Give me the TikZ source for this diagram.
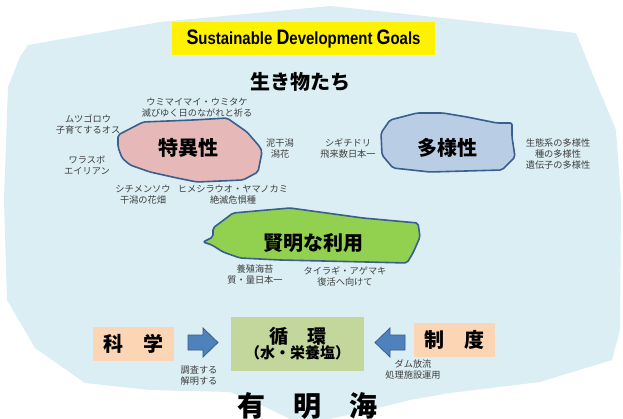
\documentclass[tikz,border=0pt]{standalone}
\usepackage{fontspec}
\usepackage{graphicx}
\newfontfamily\cjk{Noto Sans CJK JP}
\newfontfamily\latinfont{Liberation Sans}
\definecolor{seabg}{HTML}{DAEEF3}
\definecolor{edgeblue}{HTML}{3A5E8E}
\definecolor{pinkfill}{HTML}{E6B9B8}
\definecolor{bluefill}{HTML}{B9CDE5}
\definecolor{greenfill}{HTML}{92D050}
\definecolor{cyclefill}{HTML}{C3D69B}
\definecolor{peachfill}{HTML}{FCD5B5}
\definecolor{arrowfill}{HTML}{4F81BD}
\definecolor{arrowedge}{HTML}{385D8A}
\definecolor{labelgray}{HTML}{3F3F3F}
\tikzset{
  blobshape/.style={draw=edgeblue, line width=1.6pt, rounded corners=2pt, line join=round},
  blobtext/.style={inner sep=0pt, font=\cjk\bfseries\fontsize{20}{22}\selectfont},
  smalllabel/.style={inner sep=0pt, align=center, text=labelgray, font=\cjk\fontsize{9.2}{11}\selectfont},
  peachbox/.style={fill=peachfill, minimum width=81pt, minimum height=34pt, inner sep=0pt, font=\cjk\bfseries\fontsize{20}{22}\selectfont},
  blockarrow/.style={fill=arrowfill, draw=arrowedge, line width=0.8pt, line join=miter},
}
\begin{document}
\begin{tikzpicture}[x=1pt,y=-1pt]
\useasboundingbox (0,0) rectangle (623,419);
% sea background
\fill[seabg] (28,45) -- (160,22) -- (330,6) -- (480,22) -- (576,33) -- (593,75) -- (616,130) -- (621,200) -- (620,330) -- (612,360) -- (540,382) -- (450,393) -- (410,400) -- (370,410) -- (330,419) -- (290,419) -- (255,402) -- (230,392) -- (150,390) -- (85,383) -- (35,348) -- (7,300) -- (4,200) -- (8,87) -- (20,57) -- cycle;

% title
\node[fill=yellow, minimum width=263pt, minimum height=33pt, inner sep=0pt] (title) at (303.5,38.5)
  {\resizebox{234pt}{\height}{\latinfont\bfseries{\fontsize{21}{21}\selectfont S}{\fontsize{17.5}{17.5}\selectfont ustainable }{\fontsize{21}{21}\selectfont D}{\fontsize{17.5}{17.5}\selectfont evelopment }{\fontsize{21}{21}\selectfont G}{\fontsize{17.5}{17.5}\selectfont oals}}};

\node[blobtext] (living) at (300,82) {生き物たち};

% blobs
\draw[blobshape, fill=pinkfill] (118,135) -- (143,122) -- (193,120) -- (227,118) -- (247,132) -- (260,147) -- (262,152) -- (258,172) -- (243,180) -- (197,182) -- (177,178) -- (150,172) -- (130,165) -- (122,158) -- (118,147) -- cycle;
\node[blobtext] (tokui) at (188,148) {特異性};

\draw[blobshape, fill=bluefill] (381,133) -- (390,120) -- (417,113) -- (443,113) -- (467,117) -- (497,123) -- (512,123) -- (512,137) -- (515,157) -- (502,170) -- (430,172) -- (393,168) -- (382,155) -- cycle;
\node[blobtext] (tayou) at (447,148) {多様性};

\draw[blobshape, fill=greenfill] (203,242) -- (213,237) -- (213,228) -- (233,213) -- (290,208) -- (363,218) -- (418,223) -- (420,237) -- (413,253) -- (407,263) -- (367,262) -- (280,260) -- (240,258) -- (223,252) -- (212,245) -- cycle;
\node[blobtext] (kenmei) at (313,243) {賢明な利用};

% small labels
\node[smalllabel] (umimai) at (197,108) {ウミマイマイ・ウミタケ\\滅びゆく日のながれと祈る};
\node[smalllabel] (mutsu) at (88,124) {ムツゴロウ\\子育てするオス};
\node[smalllabel] (warasubo) at (87,165) {ワラスボ\\エイリアン};
\node[smalllabel] (doro) at (280,149) {泥干潟\\潟花};
\node[smalllabel] (shichi) at (143,195) {シチメンソウ\\干潟の花畑};
\node[smalllabel] (hime) at (233,195) {ヒメシラウオ・ヤマノカミ\\絶滅危惧種};
\node[smalllabel] (shigi) at (348,148) {シギチドリ\\飛来数日本一};
\node[smalllabel] (seitai) at (558,154) {生態系の多様性\\種の多様性\\遺伝子の多様性};
\node[smalllabel] (nori) at (255,275) {養殖海苔\\質・量日本一};
\node[smalllabel] (tairagi) at (345,276) {タイラギ・アゲマキ\\復活へ向けて};
\node[smalllabel] (chousa) at (199,376) {調査する\\解明する};
\node[smalllabel] (dam) at (413,369) {ダム放流\\処理施設運用};

% bottom boxes
\node[peachbox] (kagaku) at (133.5,344) {科　学};
\node[peachbox] (seido) at (454.5,340) {制　度};
\node[fill=cyclefill, minimum width=133pt, minimum height=54pt, inner sep=0pt, align=center, font=\cjk\bfseries] (junkan) at (297.5,344)
  {{\fontsize{19}{21}\selectfont 循　環}\\[-1pt]{\fontsize{15}{17}\selectfont （水・栄養塩）}};

% block arrows
\draw[blockarrow] (188,335) -- (203,335) -- (203,328) -- (218,342.5) -- (203,357) -- (203,350) -- (188,350) -- cycle;
\draw[blockarrow] (405,335) -- (390,335) -- (390,328) -- (375,342.5) -- (390,357) -- (390,350) -- (405,350) -- cycle;

\node[inner sep=0pt, font=\cjk\bfseries\fontsize{28}{30}\selectfont] (ariake) at (307,406) {有　明　海};
\end{tikzpicture}
\end{document}
